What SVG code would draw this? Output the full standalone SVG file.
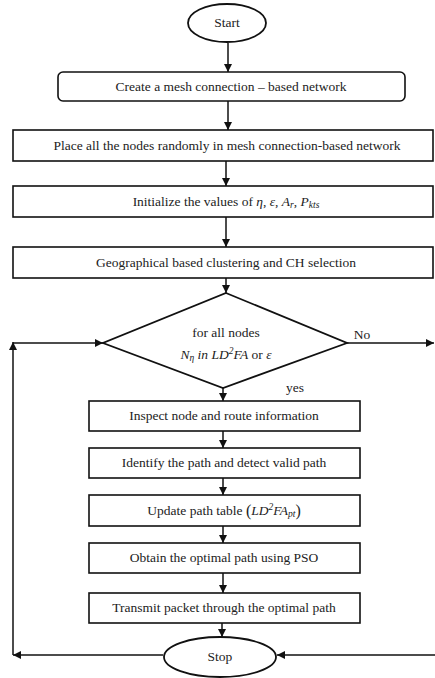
<svg xmlns="http://www.w3.org/2000/svg" width="435" height="678" viewBox="0 0 435 678">
<defs>
<style>
.box{fill:#fff;stroke:#111;stroke-width:1.6}
.shape{fill:#fff;stroke:#111;stroke-width:1.8}
text{font-family:'Liberation Serif','Times New Roman','DejaVu Serif',serif;font-size:13.5px;fill:#222;text-anchor:middle}
.i{font-style:italic}
.c{fill:none;stroke:#111;stroke-width:1.5}
</style>
<marker id="ah" viewBox="0 0 10 10" refX="10" refY="5" markerWidth="8" markerHeight="8" markerUnits="userSpaceOnUse" orient="auto">
<path d="M0,0 L10,5 L0,10 z" fill="#111"/>
</marker>
</defs>
<rect width="435" height="678" fill="#fff"/>
<g id="connectors">
<line class="c" x1="228" y1="43" x2="228" y2="72" marker-end="url(#ah)"/>
<line class="c" x1="228" y1="101" x2="228" y2="130" marker-end="url(#ah)"/>
<line class="c" x1="226" y1="161" x2="226" y2="186" marker-end="url(#ah)"/>
<line class="c" x1="226" y1="217" x2="226" y2="247" marker-end="url(#ah)"/>
<line class="c" x1="226" y1="278" x2="226" y2="293" marker-end="url(#ah)"/>
<line class="c" x1="223" y1="388" x2="223" y2="401" marker-end="url(#ah)"/>
<line class="c" x1="223" y1="431" x2="223" y2="448" marker-end="url(#ah)"/>
<line class="c" x1="223" y1="478" x2="223" y2="495" marker-end="url(#ah)"/>
<line class="c" x1="223" y1="526" x2="223" y2="543" marker-end="url(#ah)"/>
<line class="c" x1="223" y1="573" x2="223" y2="593" marker-end="url(#ah)"/>
<line class="c" x1="222" y1="623" x2="222" y2="637" marker-end="url(#ah)"/>
<line class="c" x1="347" y1="343" x2="434" y2="343" marker-end="url(#ah)"/>
<line class="c" x1="435" y1="655" x2="277" y2="655" marker-end="url(#ah)"/>
<line class="c" x1="163" y1="655" x2="13" y2="655" marker-end="url(#ah)"/>
<line class="c" x1="13" y1="655" x2="13" y2="342" marker-end="url(#ah)"/>
<line class="c" x1="13" y1="343" x2="103" y2="343" marker-end="url(#ah)"/>
<text x="362" y="339">No</text>
<text x="295" y="392">yes</text>
</g>
<g id="start">
<ellipse class="shape" cx="227" cy="23" rx="39" ry="19"/>
<text x="227" y="27">Start</text>
</g>
<g id="create">
<rect class="box" x="58" y="72" width="347" height="29" rx="5"/>
<text x="231" y="91">Create a mesh connection – based network</text>
</g>
<g id="place">
<rect class="box" x="13" y="130" width="420" height="31"/>
<text x="227" y="150">Place all the nodes randomly in mesh connection-based network</text>
</g>
<g id="init">
<rect class="box" x="13" y="186" width="420" height="31"/>
<text x="226" y="206">Initialize the values of <tspan class="i">η</tspan>, <tspan class="i">ε</tspan>, <tspan class="i">A</tspan><tspan class="i" font-size="9.5" dy="2">r</tspan><tspan dy="-2">, </tspan><tspan class="i">P</tspan><tspan class="i" font-size="9.5" dy="2">kts</tspan></text>
</g>
<g id="geo">
<rect class="box" x="13" y="247" width="420" height="31"/>
<text x="226" y="267">Geographical based clustering and CH selection</text>
</g>
<g id="decision">
<polygon class="shape" points="226,293 347,343 223,388 103,343"/>
<text x="226" y="337">for all nodes</text>
<text x="226" y="359"><tspan class="i">N</tspan><tspan class="i" font-size="9.5" dy="2">η</tspan><tspan class="i" dy="-2"> in LD</tspan><tspan class="i" font-size="9.5" dy="-5">2</tspan><tspan class="i" dy="5">FA</tspan> or <tspan class="i">ε</tspan></text>
</g>
<g id="inspect">
<rect class="box" x="89" y="401" width="271" height="30"/>
<text x="224" y="420">Inspect node and route information</text>
</g>
<g id="identify">
<rect class="box" x="89" y="448" width="271" height="30"/>
<text x="224" y="467">Identify the path and detect valid path</text>
</g>
<g id="update">
<rect class="box" x="89" y="495" width="271" height="31"/>
<text x="224" y="515">Update path table <tspan font-size="16" dy="1">(</tspan><tspan class="i" dy="-1">LD</tspan><tspan class="i" font-size="9.5" dy="-5">2</tspan><tspan class="i" dy="5">FA</tspan><tspan class="i" font-size="9.5" dy="2">pt</tspan><tspan font-size="16" dy="-1">)</tspan></text>
</g>
<g id="obtain">
<rect class="box" x="89" y="543" width="271" height="30"/>
<text x="224" y="562">Obtain the optimal path using PSO</text>
</g>
<g id="transmit">
<rect class="box" x="89" y="593" width="271" height="30"/>
<text x="224" y="612">Transmit packet through the optimal path</text>
</g>
<g id="stop">
<ellipse class="shape" cx="220" cy="657" rx="56" ry="20"/>
<text x="220" y="661">Stop</text>
</g>
</svg>
